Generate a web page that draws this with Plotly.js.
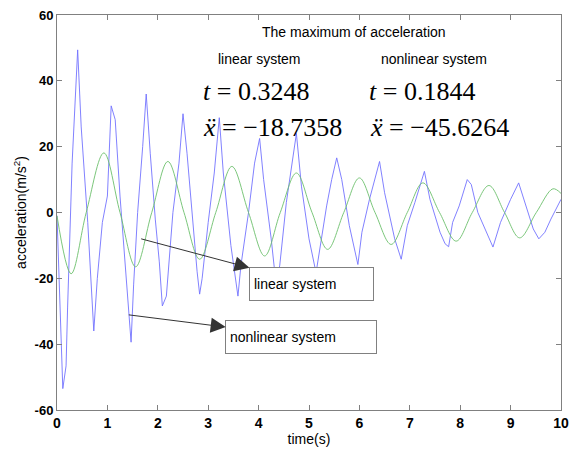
<!DOCTYPE html>
<html>
<head>
<meta charset="utf-8">
<script src="https://cdn.plot.ly/plotly-3.0.1.min.js"></script>
<style>html,body{margin:0;padding:0;background:#fff;}#chart{width:570px;height:450px;}</style>
</head>
<body>
<div id="chart"></div>
<script>
// Linear system (green): extrema and zero crossings
const linearT = [0, 0.28, 0.58, 0.93, 1.25, 1.56, 1.88, 2.2, 2.52, 2.83, 3.15, 3.47, 3.8, 4.12, 4.43, 4.75, 5.06, 5.37, 5.69, 6.0, 6.31, 6.63, 6.95, 7.26, 7.59, 7.92, 8.24, 8.57, 8.88, 9.18, 9.51, 9.84, 10];
const linearA = [-1, -18.6, 0, 18.1, 0, -16.5, 0, 15.5, 0, -14.2, 0, 14, 0, -13.2, 0, 12, 0, -11.2, 0, 10.5, 0, -9.7, 0, 9, 0, -8.7, 0, 8.2, 0, -7.7, 0, 7.2, 5.8];

const nonlinearT = [0, 0.06, 0.115, 0.18, 0.21, 0.3, 0.41, 0.48, 0.61, 0.73, 0.8, 0.9, 1.0, 1.075, 1.155, 1.25, 1.35, 1.44, 1.47, 1.52, 1.6, 1.7, 1.77, 1.85, 1.95, 2.03, 2.09, 2.17, 2.3, 2.42, 2.5, 2.58, 2.7, 2.78, 2.83, 2.88, 3.0, 3.12, 3.22, 3.3, 3.45, 3.59, 3.65, 3.8, 3.92, 4.02, 4.1, 4.25, 4.35, 4.42, 4.55, 4.65, 4.75, 4.85, 5.0, 5.14, 5.22, 5.35, 5.45, 5.55, 5.65, 5.8, 5.97, 6.05, 6.2, 6.4, 6.5, 6.7, 6.83, 6.95, 7.1, 7.29, 7.4, 7.6, 7.7, 7.77, 7.85, 7.98, 8.14, 8.22, 8.35, 8.65, 8.8, 9.0, 9.16, 9.3, 9.45, 9.56, 9.68, 9.8, 10];
const nonlinearA = [-1, -30, -53.5, -46.6, -29, 15, 49.4, 26, -3, -36, -20, -3, 5, 32.4, 28.2, 5, -15, -31, -39.4, -22, 0, 20, 36, 18, -2, -15, -28.4, -25.4, 0, 15, 30, 18, -5, -18, -24.8, -20, -3, 12, 28.8, 12, -10, -25.4, -16, 0, 15, 22.5, 10, -8, -22.3, -16, 3, 14, 24, 8, -8, -18.3, -10, 2, 10, 16.6, 10, -4, -15.8, -6, 4, 15.5, 6, -8, -14.2, -4, 3, 12.5, 4, -6, -9.5, -10.4, -3, 2, 10, 8.5, 0, -10.5, -3, 4, 9, 2, -5, -8, -6, -2, 4];

const xTicks = [0,1,2,3,4,5,6,7,8,9,10];
const yTicks = [-60,-40,-20,0,20,40,60];

const serif = "Liberation Serif, Times New Roman, serif";
const sans = "Liberation Sans, Arial, sans-serif";

const traces = [
  {x: nonlinearT, y: nonlinearA, type: 'scatter', mode: 'lines', name: 'nonlinear system',
   line: {color: '#7373ff', width: 0.9}},
  {x: linearT, y: linearA, type: 'scatter', mode: 'lines', name: 'linear system',
   line: {color: '#6cbf6c', width: 0.9, shape: 'spline', smoothing: 1}}
];

const boxStyle = {
  showarrow: true, arrowside: 'start', startarrowhead: 2, startarrowsize: 3, arrowwidth: 1, arrowcolor: '#333',
  standoff: 0, startstandoff: 0,
  bordercolor: '#808080', borderwidth: 1, borderpad: 4, bgcolor: '#fff', height: 24, align: 'left',
  font: {family: sans, size: 14, color: '#000'}
};

const annotations = [
  {x: 5.9, y: 54.8, xref: 'x', yref: 'y', text: 'The maximum of acceleration', showarrow: false, font: {family: sans, size: 14, color: '#000'}},
  {x: 4.0, y: 46.7, xref: 'x', yref: 'y', text: 'linear system', showarrow: false, font: {family: sans, size: 14, color: '#000'}},
  {x: 7.48, y: 46.7, xref: 'x', yref: 'y', text: 'nonlinear system', showarrow: false, font: {family: sans, size: 14, color: '#000'}},
  {x: 3.94, y: 36.7, xref: 'x', yref: 'y', text: '<i>t</i> = 0.3248', showarrow: false, font: {family: serif, size: 26, color: '#000'}},
  {x: 7.25, y: 36.7, xref: 'x', yref: 'y', text: '<i>t</i> = 0.1844', showarrow: false, font: {family: serif, size: 26, color: '#000'}},
  {x: 4.28, y: 25.8, xref: 'x', yref: 'y', text: '<i>ẍ</i> = −18.7358', showarrow: false, font: {family: serif, size: 26, color: '#000'}},
  {x: 7.59, y: 25.8, xref: 'x', yref: 'y', text: '<i>ẍ</i> = −45.6264', showarrow: false, font: {family: serif, size: 26, color: '#000'}},
  Object.assign({x: 1.67, y: -8, xref: 'x', yref: 'y', axref: 'x', ayref: 'y', ax: 5.045, ay: -21.8,
   text: 'linear system', width: 115}, boxStyle),
  Object.assign({x: 1.425, y: -31.1, xref: 'x', yref: 'y', axref: 'x', ayref: 'y', ax: 4.845, ay: -37.7,
   text: 'nonlinear system', width: 142}, boxStyle)
];

const layout = {
  width: 570, height: 450,
  margin: {l: 57, r: 9, t: 15, b: 40},
  paper_bgcolor: '#fff', plot_bgcolor: '#fff',
  showlegend: false,
  xaxis: {range: [0, 10], tickvals: xTicks, ticktext: xTicks.map(String), ticks: 'inside', ticklen: 5, tickcolor: '#808080',
    showline: true, linecolor: '#808080', linewidth: 1, mirror: 'ticks', showgrid: false, zeroline: false,
    tickfont: {family: sans, size: 14, color: '#000', weight: 'bold'},
    title: {text: 'time(s)', font: {family: sans, size: 14, color: '#000'}, standoff: 3}},
  yaxis: {range: [-60, 60], tickvals: yTicks, ticktext: yTicks.map(String), ticks: 'inside', ticklen: 5, tickcolor: '#808080',
    showline: true, linecolor: '#808080', linewidth: 1, mirror: 'ticks', showgrid: false, zeroline: false,
    tickfont: {family: sans, size: 13, color: '#000', weight: 'bold'},
    title: {text: 'acceleration(m/s<sup>2</sup>)', font: {family: sans, size: 14, color: '#000'}, standoff: 4}},
  annotations: annotations
};

Plotly.newPlot('chart', traces, layout, {displayModeBar: false, staticPlot: true});
</script>
</body>
</html>
